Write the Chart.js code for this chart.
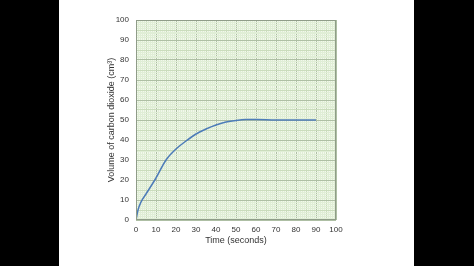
<!DOCTYPE html>
<html>
<head>
<meta charset="utf-8">
<script src="https://cdn.jsdelivr.net/npm/chart.js@4"></script>
<style>
  html, body { margin: 0; padding: 0; background: #000; width: 474px; height: 266px; overflow: hidden; }
  #panel { position: absolute; left: 59px; top: 0; width: 355px; height: 266px; background: #fff; }
  #c { display: block; }
</style>
</head>
<body>
<div id="panel"><canvas id="c" width="355" height="266"></canvas></div>
<script>
const timeSeconds = [0, 1, 2.5, 5, 10, 15, 20, 25, 30, 35, 40, 45, 50, 55, 60, 70, 80, 90];
const volumeCO2 = [0, 5, 9, 13, 21, 30, 35.5, 39.5, 43, 45.5, 47.5, 49, 49.8, 50.2, 50.2, 50, 50, 50];
const xTitle = 'Time (seconds)';
const yTitle = 'Volume of carbon dioxide (cm³)';

const gridColor = (ctx) => {
  const v = Math.round(ctx.tick ? ctx.tick.value : 0);
  if (v % 10 === 0) return '#aebfa4';
  if (v % 5 === 0) return '#cadcbc';
  return '#e0eed6';
};

const bgPlugin = {
  id: 'bg',
  beforeDraw(chart) {
    const { ctx, chartArea: a } = chart;
    ctx.save();
    ctx.fillStyle = '#f2f8ec';
    ctx.fillRect(a.left, a.top, a.right - a.left, a.bottom - a.top);
    ctx.restore();
  },
  afterDraw(chart) {
    const { ctx, chartArea: a } = chart;
    ctx.save();
    ctx.strokeStyle = '#8f9c88';
    ctx.lineWidth = 1;
    ctx.strokeRect(a.left + 0.5, a.top + 0.5, a.right - a.left - 1, a.bottom - a.top - 1);
    ctx.restore();
  }
};

new Chart(document.getElementById('c'), {
  type: 'line',
  data: {
    datasets: [{
      data: timeSeconds.map((t, i) => ({ x: t, y: volumeCO2[i] })),
      borderColor: '#4d7cb8',
      borderWidth: 1.5,
      pointRadius: 0,
      fill: false,
      cubicInterpolationMode: 'monotone'
    }]
  },
  options: {
    responsive: false,
    animation: false,
    layout: { padding: { left: 45, right: 78, top: 20, bottom: 16 } },
    plugins: { legend: { display: false }, tooltip: { enabled: false } },
    scales: {
      x: {
        type: 'linear', min: 0, max: 100,
        afterFit: (s) => { s.height = 30; },
        ticks: {
          stepSize: 1, autoSkip: false, maxRotation: 0, padding: 5,
          color: '#333', font: { family: 'Liberation Sans', size: 8 },
          callback: (v) => (v % 10 === 0 ? String(v) : '')
        },
        grid: { color: gridColor, lineWidth: 1, drawTicks: false },
        border: { display: false },
        title: { display: true, text: xTitle, color: '#333', font: { family: 'Liberation Sans', size: 9 }, padding: { top: 0, bottom: 4 } }
      },
      y: {
        type: 'linear', min: 0, max: 100,
        afterFit: (s) => { s.width = 32; },
        ticks: {
          stepSize: 1, autoSkip: false, padding: 7,
          color: '#333', font: { family: 'Liberation Sans', size: 8 },
          callback: (v) => (v % 10 === 0 ? String(v) : '')
        },
        grid: { color: gridColor, lineWidth: 1, drawTicks: false },
        border: { display: false },
        title: { display: true, text: yTitle, color: '#333', font: { family: 'Liberation Sans', size: 9 }, padding: { top: 2, bottom: 0 } }
      }
    }
  },
  plugins: [bgPlugin]
});
</script>
</body>
</html>
